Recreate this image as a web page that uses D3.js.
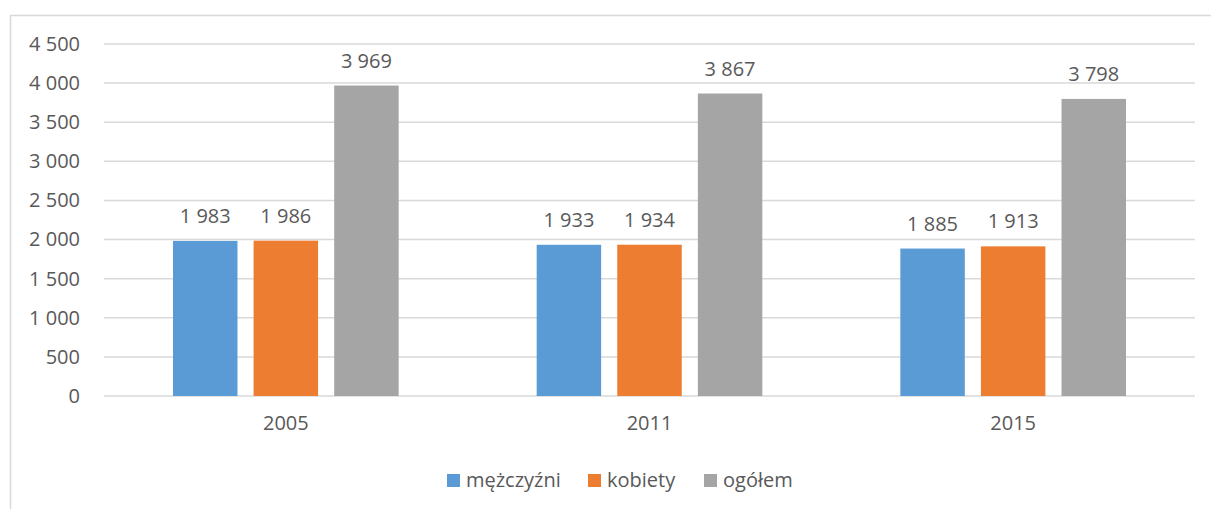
<!DOCTYPE html>
<html>
<head>
<meta charset="utf-8">
<script src="https://cdn.jsdelivr.net/npm/d3@7"></script>
<style>
  body { margin: 0; background: #fff; }
  text { font-family: "Open Sans", sans-serif; fill: #595959; }
</style>
</head>
<body>
<div id="chart"></div>
<script>
const years = ["2005", "2011", "2015"];
const seriesNames = ["mężczyźni", "kobiety", "ogółem"];
const men = [1983, 1933, 1885];
const women = [1986, 1934, 1913];
const total = [3969, 3867, 3798];
const yTicks = [0, 500, 1000, 1500, 2000, 2500, 3000, 3500, 4000, 4500];
const colors = ["#5b9bd5", "#ed7d31", "#a5a5a5"];

const seriesValues = [men, women, total];

const width = 1211, height = 509;
const margin = {top: 44, right: 16, bottom: 113, left: 104};
const innerW = width - margin.left - margin.right,
      innerH = height - margin.top - margin.bottom;

const fmt = v => d3.format(",")(v).replace(/,/g, " ");

const svg = d3.select("#chart")
  .append("svg")
  .attr("width", width)
  .attr("height", height);

// chart border
svg.append("rect")
  .attr("x", 10.5).attr("y", 15.5)
  .attr("width", 1220).attr("height", 520)
  .attr("fill", "none")
  .attr("stroke", "#d9d9d9")
  .attr("stroke-width", 1.5);

const g = svg.append("g")
  .attr("transform", "translate(" + margin.left + "," + margin.top + ")");

const x0 = d3.scaleBand().domain(years).range([0, innerW]).padding(0);
const x1 = d3.scaleBand().domain(seriesNames)
  .range([69, x0.bandwidth() - 69])
  .paddingInner(0.2);
const y = d3.scaleLinear().domain([0, 4500]).range([innerH, 0]);

// gridlines
g.selectAll(".grid")
  .data(yTicks)
  .enter()
  .append("line")
  .attr("x1", 0).attr("x2", innerW)
  .attr("y1", d => y(d)).attr("y2", d => y(d))
  .attr("stroke", "#d9d9d9")
  .attr("stroke-width", 1.5);

// y axis labels
const yAxis = g.append("g")
  .call(d3.axisLeft(y).tickValues(yTicks).tickSize(0).tickPadding(24).tickFormat(fmt));
yAxis.select(".domain").remove();
yAxis.selectAll("text")
  .style("font-size", "20px")
  .attr("fill", "#595959")
  .style("font-family", "Open Sans, sans-serif");

// x axis labels
const xAxis = g.append("g")
  .attr("transform", "translate(0," + innerH + ")")
  .call(d3.axisBottom(x0).tickSize(0).tickPadding(20));
xAxis.select(".domain").remove();
xAxis.selectAll("text")
  .style("font-size", "20px")
  .attr("fill", "#595959")
  .style("font-family", "Open Sans, sans-serif");

// bars
const groups = g.selectAll(".year")
  .data(years)
  .enter()
  .append("g")
  .attr("transform", d => "translate(" + x0(d) + ",0)");

groups.each(function (year, i) {
  const grp = d3.select(this);
  const rows = seriesNames.map((s, j) => ({name: s, value: seriesValues[j][i], color: colors[j]}));
  grp.selectAll("rect")
    .data(rows)
    .enter()
    .append("rect")
    .attr("x", d => x1(d.name))
    .attr("y", d => y(d.value))
    .attr("width", x1.bandwidth())
    .attr("height", d => innerH - y(d.value))
    .attr("fill", d => d.color);
  grp.selectAll(".lbl")
    .data(rows)
    .enter()
    .append("text")
    .attr("x", d => x1(d.name) + x1.bandwidth() / 2)
    .attr("y", d => y(d.value) - 18)
    .attr("text-anchor", "middle")
    .style("font-size", "20px")
    .attr("fill", "#404040")
    .text(d => fmt(d.value));
});

// legend
const legendX = [447, 588, 704];
const legend = svg.append("g");
seriesNames.forEach((s, j) => {
  legend.append("rect")
    .attr("x", legendX[j]).attr("y", 474)
    .attr("width", 13).attr("height", 13)
    .attr("fill", colors[j]);
  legend.append("text")
    .attr("x", legendX[j] + 19).attr("y", 487)
    .style("font-size", "20px")
    .text(s);
});
</script>
</body>
</html>
